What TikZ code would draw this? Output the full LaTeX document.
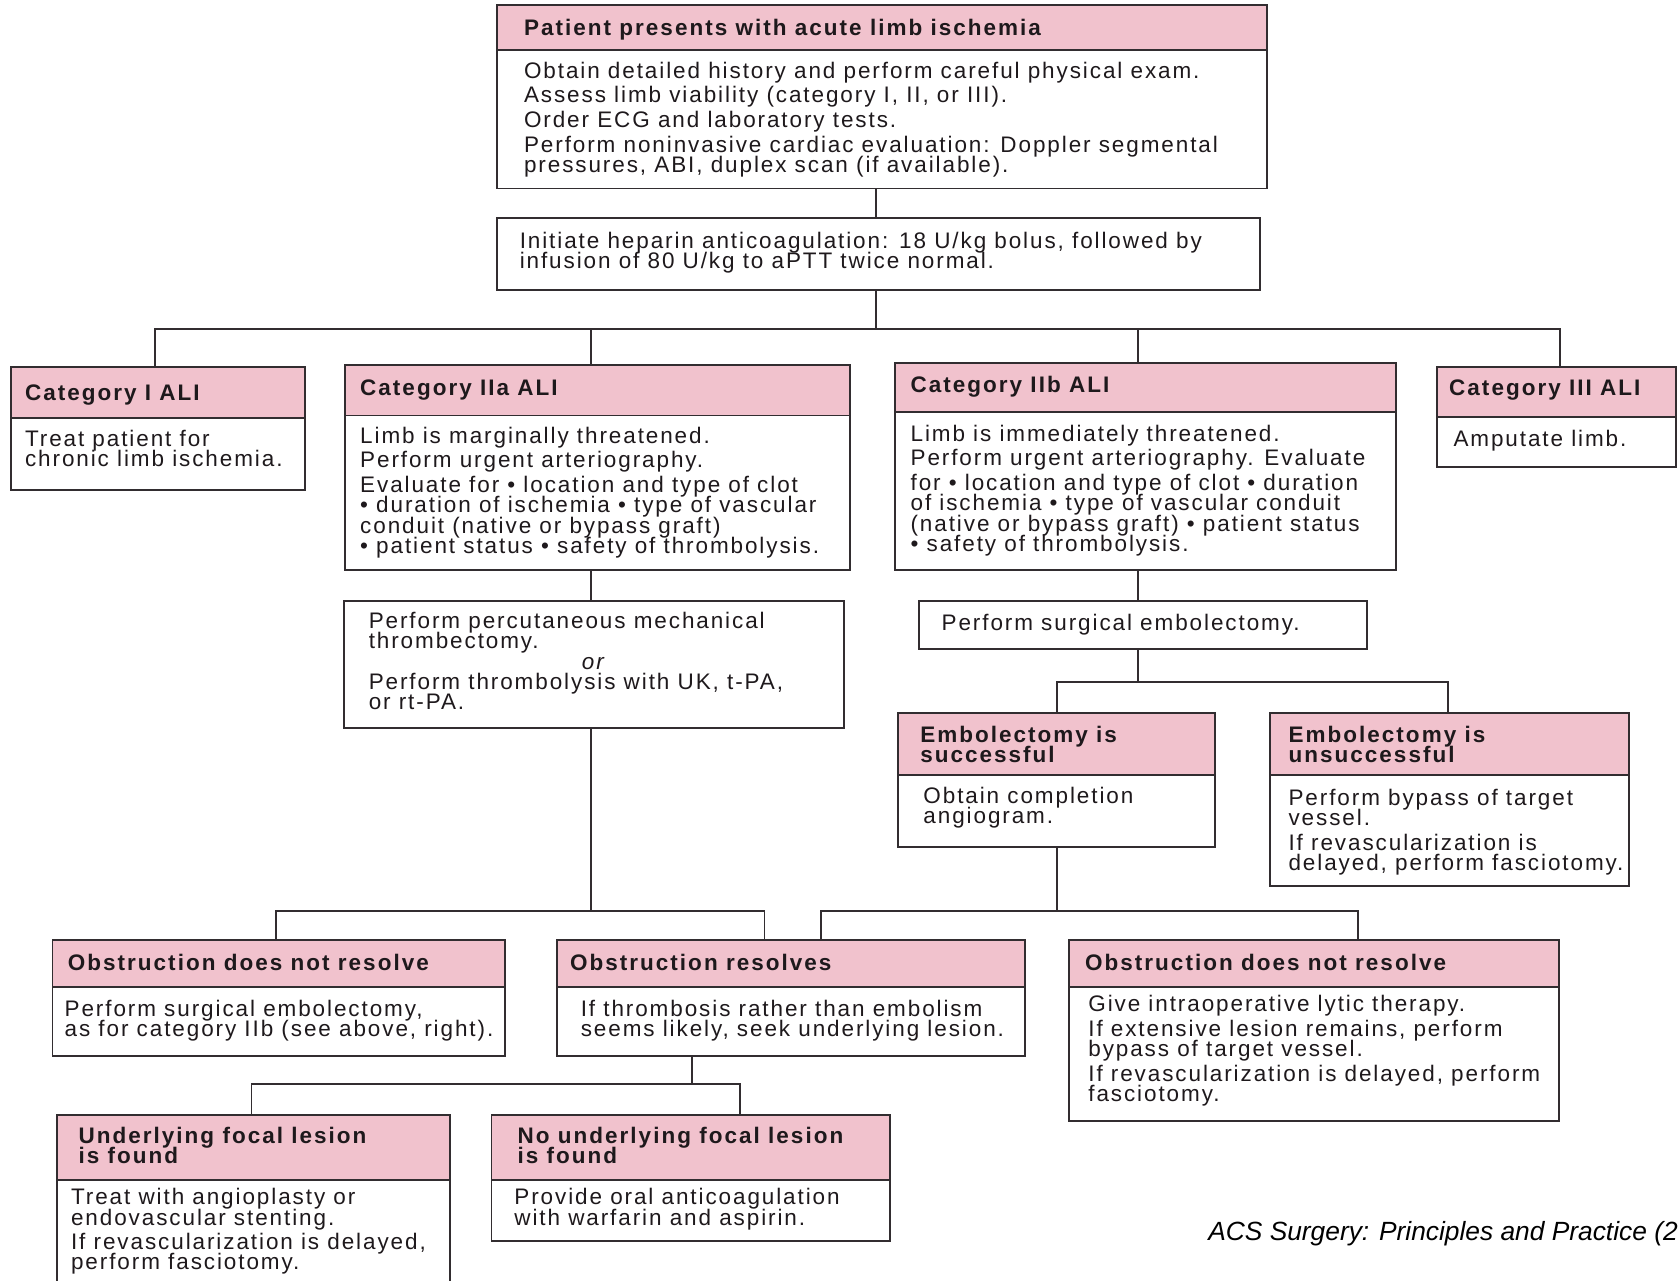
\documentclass[tikz,border=0pt]{standalone}
\usepackage{fontspec}
\setmainfont{Liberation Sans}
\newfontfamily\bodyfam{Liberation Sans}[LetterSpace=8.5]
\newfontfamily\headfam{Liberation Sans}[LetterSpace=9]
\usetikzlibrary{fit}
\definecolor{hdr}{RGB}{241,194,205}
\definecolor{ln}{RGB}{50,45,48}
\definecolor{tx}{RGB}{30,25,28}
\newcommand\ml[2][9.5pt]{\vtop{\baselineskip=#1\lineskiplimit=-\maxdimen\lineskip=0pt\halign{##\hfil\cr#2\crcr}}}
\newcommand\psk{\noalign{\vskip2pt}}
\newcommand\bl{\textbullet\ }
\tikzset{
  fitbox/.style={draw=ln, line width=0.9pt, inner sep=0pt},
  sepline/.style={draw=ln, line width=0.9pt},
  con/.style={draw=ln, line width=0.8pt},
  body/.style={inner sep=0pt, anchor=base west, text=tx, font=\bodyfam\fontsize{10.5}{9.5}\selectfont},
  head/.style={inner sep=0pt, anchor=base west, text=tx, font=\headfam\fontsize{10.5}{9.5}\selectfont\bfseries},
  captxt/.style={inner sep=0pt, anchor=base west, text=black, font=\fontsize{12.3}{14}\selectfont\itshape},
}
\newcommand\mkbox[6]{%
  \fill[hdr] (#2,#3) rectangle (#4,#6);
  \draw[sepline] (#2,#6) -- (#4,#6);
  \node[fitbox, fit={(#2,#3)(#4,#5)}] (#1) {};}
\newcommand\mkplain[5]{\node[fitbox, fit={(#2,#3)(#4,#5)}] (#1) {};}
\begin{document}
\begin{tikzpicture}[x=0.5pt,y=-0.5pt]
\useasboundingbox (0,0) rectangle (1568,1196);
\fill[white] (0,0) rectangle (1568,1196);
\clip (0,0) rectangle (1568,1196);

% boxes
\mkbox{top}{464}{5}{1183}{176}{47}
\mkplain{hep}{464}{204}{1177}{271}
\mkbox{cat1}{10}{343}{285}{458}{390}
\mkbox{cat2a}{322}{341}{794}{532}{388}
\mkbox{cat2b}{836}{339}{1304}{532}{385}
\mkbox{cat3}{1342}{343}{1565}{436}{389}
\mkplain{thr}{321}{561}{788}{680}
\mkplain{semb}{858}{561}{1277}{606}
\mkbox{esucc}{839}{666}{1135}{791}{724}
\mkbox{eunsucc}{1186}{666}{1521}{827}{724}
\mkbox{obl}{49}{878}{472}{986}{922}
\mkbox{obr}{520}{878}{957}{986}{922}
\mkbox{obn}{998}{878}{1456}{1047}{922}
\mkbox{ufl}{53}{1041}{420}{1230}{1102}
\mkbox{nufl}{459}{1041}{831}{1159}{1102}

% texts
\node[head] (tth) at (489,33) {Patient presents with acute limb ischemia};
\node[body] (ttb) at (489,73) {\ml{Obtain detailed history and perform careful physical exam.\cr\psk
Assess limb viability (category I, II, or III).\cr\psk
Order ECG and laboratory tests.\cr\psk
Perform noninvasive cardiac evaluation: Doppler segmental\cr
pressures, ABI, duplex scan (if available).}};
\node[body] (thb) at (485,232) {\ml{Initiate heparin anticoagulation: 18 U/kg bolus, followed by\cr
infusion of 80 U/kg to aPTT twice normal.}};
\node[head] (c1h) at (23,374) {Category I ALI};
\node[body] (c1b) at (23,417) {\ml{Treat patient for\cr chronic limb ischemia.}};
\node[head] (c2ah) at (336,369) {Category IIa ALI};
\node[body] (c2ab) at (336,414) {\ml{Limb is marginally threatened.\cr\psk
Perform urgent arteriography.\cr\psk
Evaluate for \bl location and type of clot\cr
\bl duration of ischemia \bl type of vascular\cr
conduit (native or bypass graft)\cr
\bl patient status \bl safety of thrombolysis.}};
\node[head] (c2bh) at (850,367) {Category IIb ALI};
\node[body] (c2bb) at (850,412) {\ml{Limb is immediately threatened.\cr\psk
Perform urgent arteriography. Evaluate\cr\psk
for \bl location and type of clot \bl duration\cr
of ischemia \bl type of vascular conduit\cr
(native or bypass graft) \bl patient status\cr
\bl safety of thrombolysis.}};
\node[head] (c3h) at (1353,369) {Category III ALI};
\node[body] (c3b) at (1357,417) {Amputate limb.};
\node[body] (thrb) at (344,587) {\ml{Perform percutaneous mechanical\cr
thrombectomy.\cr
\hspace*{99.5pt}\itshape or\cr
Perform thrombolysis with UK, t-PA,\cr
or rt-PA.}};
\node[body] (sembb) at (879,589) {Perform surgical embolectomy.};
\node[head] (esh) at (859,693) {\ml{Embolectomy is\cr successful}};
\node[body] (esb) at (862,750) {\ml{Obtain completion\cr angiogram.}};
\node[head] (euh) at (1203,693) {\ml{Embolectomy is\cr unsuccessful}};
\node[body] (eub) at (1203,752) {\ml{Perform bypass of target\cr vessel.\cr\psk
If revascularization is\cr delayed, perform fasciotomy.}};
\node[head] (olh) at (63,906) {Obstruction does not resolve};
\node[body] (olb) at (60,949) {\ml{Perform surgical embolectomy,\cr as for category IIb (see above, right).}};
\node[head] (orh) at (532,906) {Obstruction resolves};
\node[body] (orb) at (542,949) {\ml{If thrombosis rather than embolism\cr seems likely, seek underlying lesion.}};
\node[head] (onh) at (1013,906) {Obstruction does not resolve};
\node[body] (onb) at (1016,945) {\ml{Give intraoperative lytic therapy.\cr\psk
If extensive lesion remains, perform\cr bypass of target vessel.\cr\psk
If revascularization is delayed, perform\cr fasciotomy.}};
\node[head] (ufh) at (73,1068) {\ml{Underlying focal lesion\cr is found}};
\node[body] (ufb) at (66,1125) {\ml{Treat with angioplasty or\cr endovascular stenting.\cr\psk
If revascularization is delayed,\cr perform fasciotomy.}};
\node[head] (nfh) at (483,1068) {\ml{No underlying focal lesion\cr is found}};
\node[body] (nfb) at (480,1125) {\ml{Provide oral anticoagulation\cr with warfarin and aspirin.}};
\node[captxt] (caption) at (1128,1158) {ACS Surgery: Principles and Practice (2};

% connectors
\coordinate (a1) at (818,307);
\coordinate (b1) at (145,307);
\coordinate (b2) at (552,307);
\coordinate (b3) at (1063,307);
\coordinate (b4) at (1457,307);
\draw[con] (top.south -| a1) -- (hep.north -| a1);
\draw[con] (hep.south -| a1) -- (a1);
\draw[con] (cat1.north -| b1) -- (b1) -- (b4) -- (cat3.north -| b4);
\draw[con] (b2) -- (cat2a.north -| b2);
\draw[con] (b3) -- (cat2b.north -| b3);
\draw[con] (cat2a.south -| b2) -- (thr.north -| b2);
\draw[con] (cat2b.south -| b3) -- (semb.north -| b3);
\coordinate (c0) at (1063,637);
\coordinate (c1) at (987,637);
\coordinate (c2) at (1352,637);
\draw[con] (semb.south -| c0) -- (c0);
\draw[con] (esucc.north -| c1) -- (c1) -- (c2) -- (eunsucc.north -| c2);
\coordinate (d0) at (552,851);
\coordinate (d1) at (258,851);
\coordinate (d2) at (714,851);
\draw[con] (thr.south -| d0) -- (d0);
\draw[con] (obl.north -| d1) -- (d1) -- (d2) -- (obr.north -| d2);
\coordinate (e0) at (987,851);
\coordinate (e1) at (767,851);
\coordinate (e2) at (1268,851);
\draw[con] (esucc.south -| e0) -- (e0);
\draw[con] (obr.north -| e1) -- (e1) -- (e2) -- (obn.north -| e2);
\coordinate (f0) at (646,1012);
\coordinate (f1) at (235,1012);
\coordinate (f2) at (691,1012);
\draw[con] (obr.south -| f0) -- (f0);
\draw[con] (ufl.north -| f1) -- (f1) -- (f2) -- (nufl.north -| f2);
\end{tikzpicture}
\end{document}
